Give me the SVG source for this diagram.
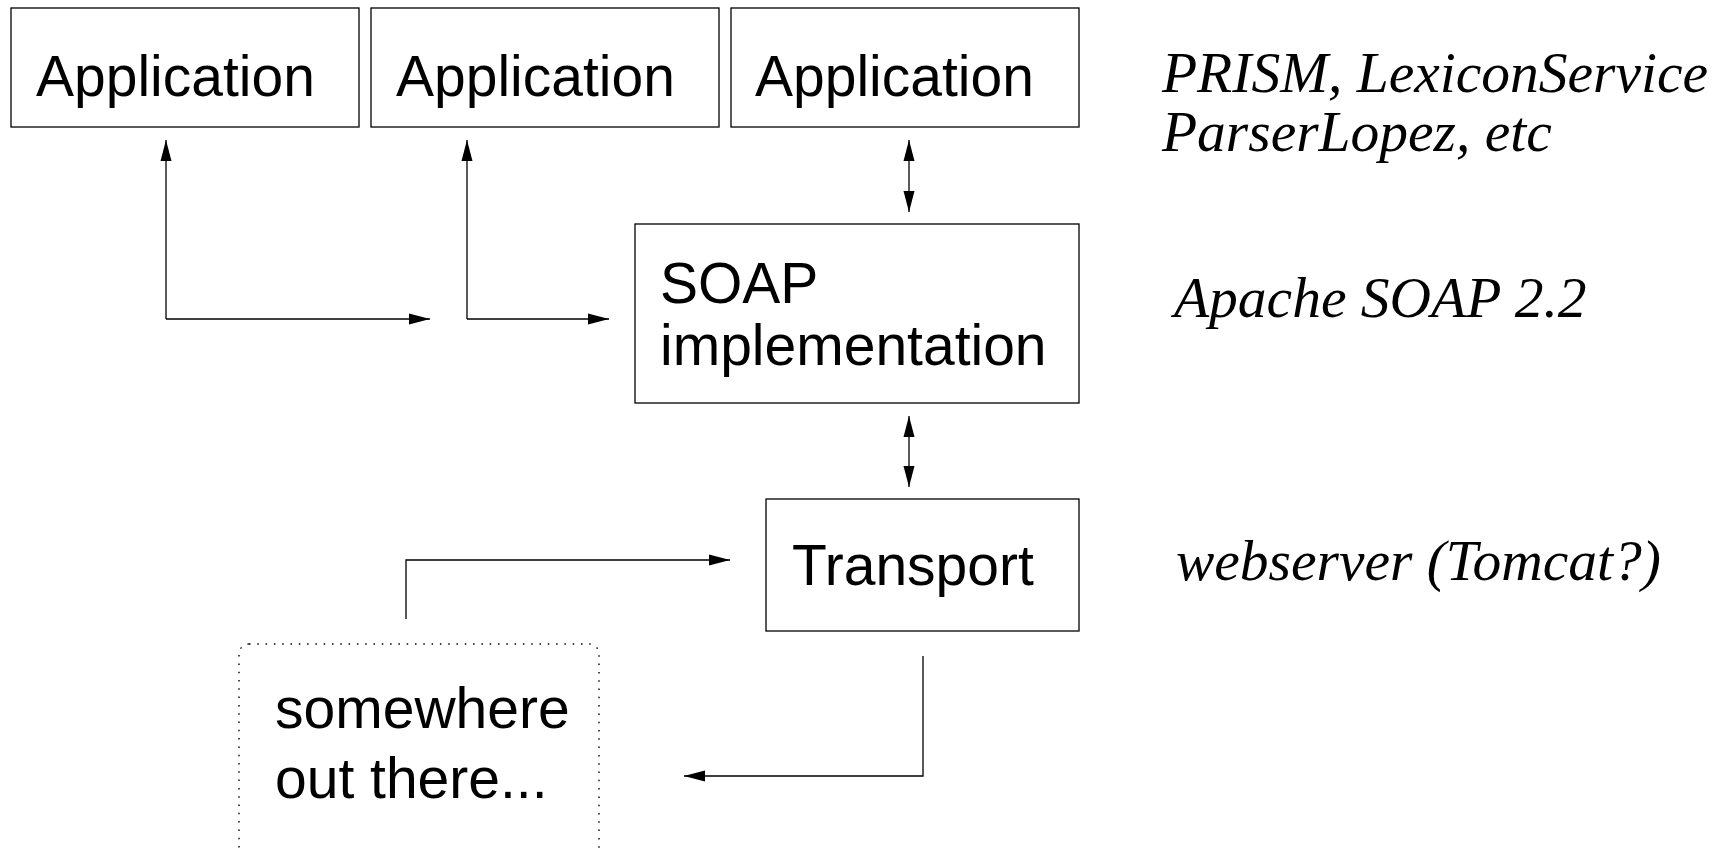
<svg xmlns="http://www.w3.org/2000/svg" width="1715" height="851" viewBox="0 0 1715 851">
  <style>
    .box { fill: #fff; stroke: #000; stroke-width: 1.3; }
    .cloud { fill: none; stroke: #000; stroke-width: 1.4; stroke-dasharray: 1.5 6.8; }
    .lbl { font-family: "Liberation Sans", Arial, sans-serif; font-size: 57px; fill: #000; }
    .note { font-family: "Liberation Serif", "Times New Roman", serif; font-style: italic; font-size: 57.5px; fill: #000; }
    .wire { fill: none; stroke: #000; stroke-width: 1.3; }
  </style>
  <defs>
    <marker id="head" markerUnits="userSpaceOnUse" markerWidth="22" markerHeight="12" refX="21" refY="6" orient="auto-start-reverse">
      <path d="M0,0.5 L21,6 L0,11.5 z" fill="#000"/>
    </marker>
  </defs>
  <rect width="1715" height="851" fill="#fff"/>

  <g id="app1">
    <rect class="box" x="11" y="8" width="348" height="119"/>
    <text class="lbl" x="36" y="96">Application</text>
  </g>
  <g id="app2">
    <rect class="box" x="371" y="8" width="348" height="119"/>
    <text class="lbl" x="396" y="96">Application</text>
  </g>
  <g id="app3">
    <rect class="box" x="731" y="8" width="348" height="119"/>
    <text class="lbl" x="755" y="96">Application</text>
  </g>
  <g id="soap">
    <rect class="box" x="635" y="224" width="444" height="179"/>
    <text class="lbl" x="660" y="303">SOAP</text>
    <text class="lbl" x="660" y="365">implementation</text>
  </g>
  <g id="transport">
    <rect class="box" x="766" y="499" width="313" height="132"/>
    <text class="lbl" x="792" y="585">Transport</text>
  </g>
  <g id="outside">
    <rect class="cloud" x="239" y="644" width="360" height="214" rx="10" ry="10"/>
    <text class="lbl" x="275" y="728">somewhere</text>
    <text class="lbl" x="275" y="798">out there...</text>
  </g>

  <g id="notes">
    <text class="note" x="1162" y="92">PRISM, LexiconService</text>
    <text class="note" x="1162" y="151">ParserLopez, etc</text>
    <text class="note" x="1174" y="317">Apache SOAP 2.2</text>
    <text class="note" x="1176" y="580">webserver (Tomcat?)</text>
  </g>

  <g id="connectors">
    <path class="wire" d="M166,319 V140" marker-end="url(#head)"/>
    <path class="wire" d="M166,319 H430" marker-end="url(#head)"/>
    <path class="wire" d="M467,319 V140" marker-end="url(#head)"/>
    <path class="wire" d="M467,319 H609" marker-end="url(#head)"/>
    <path class="wire" d="M909,140 V212" marker-start="url(#head)" marker-end="url(#head)"/>
    <path class="wire" d="M909,416 V487" marker-start="url(#head)" marker-end="url(#head)"/>
    <path class="wire" d="M406,619 V560 H730" marker-end="url(#head)"/>
    <path class="wire" d="M923,656 V776 H684" marker-end="url(#head)"/>
  </g>
</svg>
